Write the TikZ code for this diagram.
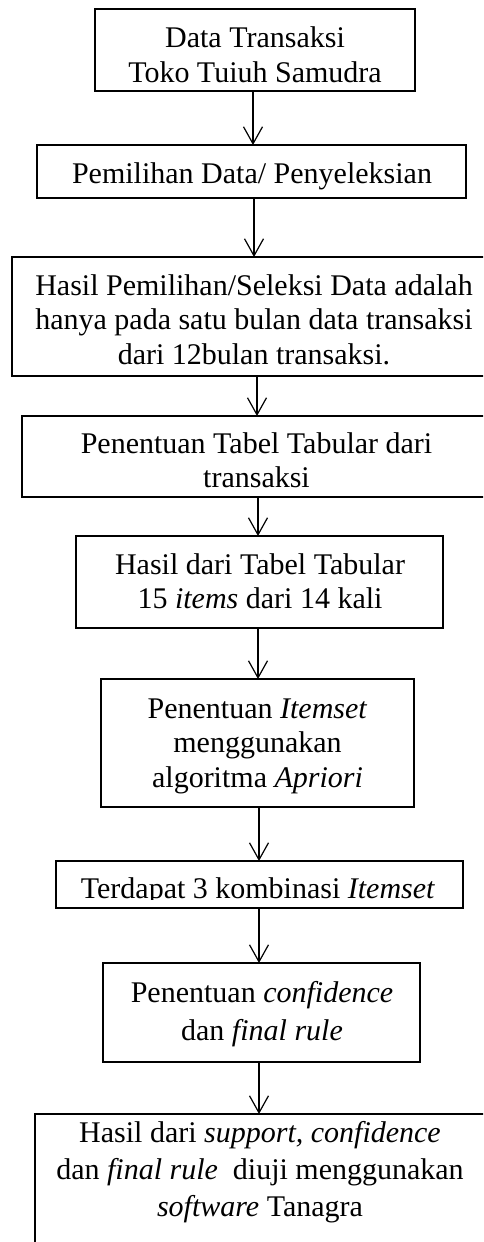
\documentclass[tikz,border=0pt]{standalone}
\usepackage{fontspec}
\setmainfont{Liberation Serif}
\usetikzlibrary{arrows.meta}

% body text size with a chosen line pitch
\newcommand{\flowfont}[1]{\fontsize{30}{#1}\selectfont}

\begin{document}
\begin{tikzpicture}[x=1pt,y=-1pt,
  stepbox/.style={draw=black,line width=1.2pt,rectangle,inner sep=0pt,outer sep=0pt},
  lbl/.style={align=center,inner sep=0pt,outer sep=0pt,font=\flowfont{34.5}},
  arr/.style={line width=1.2pt,-{Straight Barb[length=17pt,width=19pt,line width=1.2pt]}}]
\clip (0,0) rectangle (483,1242);

% boxes
\node[stepbox,minimum width=320,minimum height=82]  (b1) at (255,50) {};
\node[stepbox,minimum width=429,minimum height=53]  (b2) at (251.5,171.5) {};
\node[stepbox,minimum width=484,minimum height=119] (b3) at (254,316.5) {};
\node[stepbox,minimum width=470,minimum height=81]  (b4) at (257,456.5) {};
\node[stepbox,minimum width=367,minimum height=92]  (b5) at (259.5,582) {};
\node[stepbox,minimum width=313,minimum height=128] (b6) at (257.5,743) {};
\node[stepbox,minimum width=407,minimum height=47]  (b7) at (259.5,884.5) {};
\node[stepbox,minimum width=317,minimum height=99]  (b8) at (261.5,1012.5) {};
\node[stepbox,minimum width=452,minimum height=146] (b9) at (261,1187) {};

% texts
\node[lbl,font=\flowfont{35}] (t1) at (255,57.5)
  {\strut Data Transaksi\\\strut Toko Tuiuh Samudra};
\node[lbl] (t2) at (252,176.4) {\strut Pemilihan Data/ Penyeleksian};
\node[lbl] (t3) at (254,322.6)
  {\strut Hasil Pemilihan/Seleksi Data adalah\\\strut hanya pada satu bulan data transaksi\\\strut dari 12bulan transaksi.};
\node[lbl,font=\flowfont{34}] (t4) at (256.5,463.2)
  {\strut Penentuan Tabel Tabular dari\\\strut transaksi};
\node[lbl,font=\flowfont{34}] (t5) at (260,584.2)
  {\strut Hasil dari Tabel Tabular\\\strut 15 \textit{items} dari 14 kali};
\node[lbl] (t6) at (257.5,745.6)
  {\strut Penentuan \textit{Itemset}\\\strut menggunakan\\\strut algoritma \textit{Apriori}};
% the single line of this box is cut just under its baseline
\begin{scope}
  \clip (56,861) rectangle (463,899.5);
  \node[lbl] (t7) at (258,891.4) {\strut Terdapat 3 kombinasi \textit{Itemset}};
\end{scope}
\node[lbl,font=\flowfont{38}] (t8) at (262,1013.4)
  {\strut Penentuan \textit{confidence}\\\strut dan \textit{final rule}};
\node[lbl,font=\flowfont{37}] (t9) at (260,1171.6)
  {\strut Hasil dari \textit{support, confidence}\\\strut dan \textit{final rule}~ diuji menggunakan\\\strut \textit{software} Tanagra};

% connector columns
\coordinate (c1) at (253,0);
\coordinate (c2) at (254,0);
\coordinate (c3) at (257,0);
\coordinate (c4) at (258,0);
\coordinate (c5) at (258,0);
\coordinate (c6) at (259,0);
\coordinate (c7) at (259,0);
\coordinate (c8) at (259,0);

\draw[arr] (b1.south -| c1) -- (b2.north -| c1);
\draw[arr] (b2.south -| c2) -- (b3.north -| c2);
\draw[arr] (b3.south -| c3) -- (b4.north -| c3);
\draw[arr] (b4.south -| c4) -- (b5.north -| c4);
\draw[arr] (b5.south -| c5) -- (b6.north -| c5);
\draw[arr] (b6.south -| c6) -- (b7.north -| c6);
\draw[arr] (b7.south -| c7) -- (b8.north -| c7);
\draw[arr] (b8.south -| c8) -- (b9.north -| c8);
\end{tikzpicture}
\end{document}
